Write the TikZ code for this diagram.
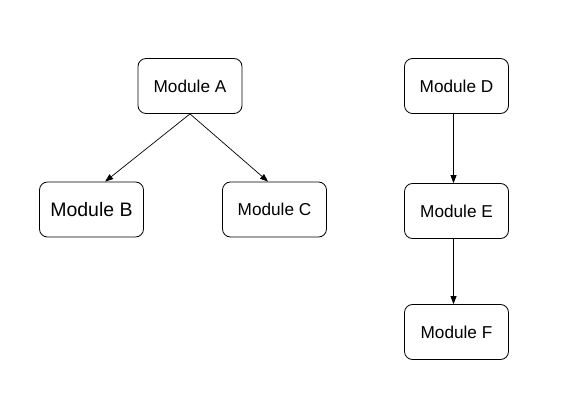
\documentclass[tikz,border=0pt]{standalone}
\usepackage{fontspec}
\setmainfont{Liberation Sans}
\usetikzlibrary{arrows.meta}

\begin{document}
\begin{tikzpicture}[x=1pt,y=-1pt,
  module/.style={draw,line width=.8pt,rounded corners=8pt,minimum width=104pt,minimum height=55pt,inner sep=0pt,font=\fontsize{17.2}{20}\selectfont},
  link/.style={-{Triangle[length=8pt,width=6pt]},line width=.7pt}]
  \useasboundingbox (0,0) rectangle (573,398);
  \node[module] (a) at (190,86) {Module A};
  \node[module,font=\fontsize{19.5}{23}\selectfont] (b) at (91.5,209.5) {Module B};
  \node[module] (c) at (274.5,209.5) {Module C};
  \node[module] (d) at (456.5,86) {Module D};
  \node[module] (e) at (456.5,211) {Module E};
  \node[module] (f) at (456.5,332) {Module F};
  \draw[link] (a.south) -- (b.64);
  \draw[link] (a.south) -- (c.103);
  \draw[link] ([xshift=-3pt]d.south) -- ([xshift=-3pt]e.north);
  \draw[link] ([xshift=-3pt]e.south) -- ([xshift=-3pt]f.north);
\end{tikzpicture}
\end{document}
